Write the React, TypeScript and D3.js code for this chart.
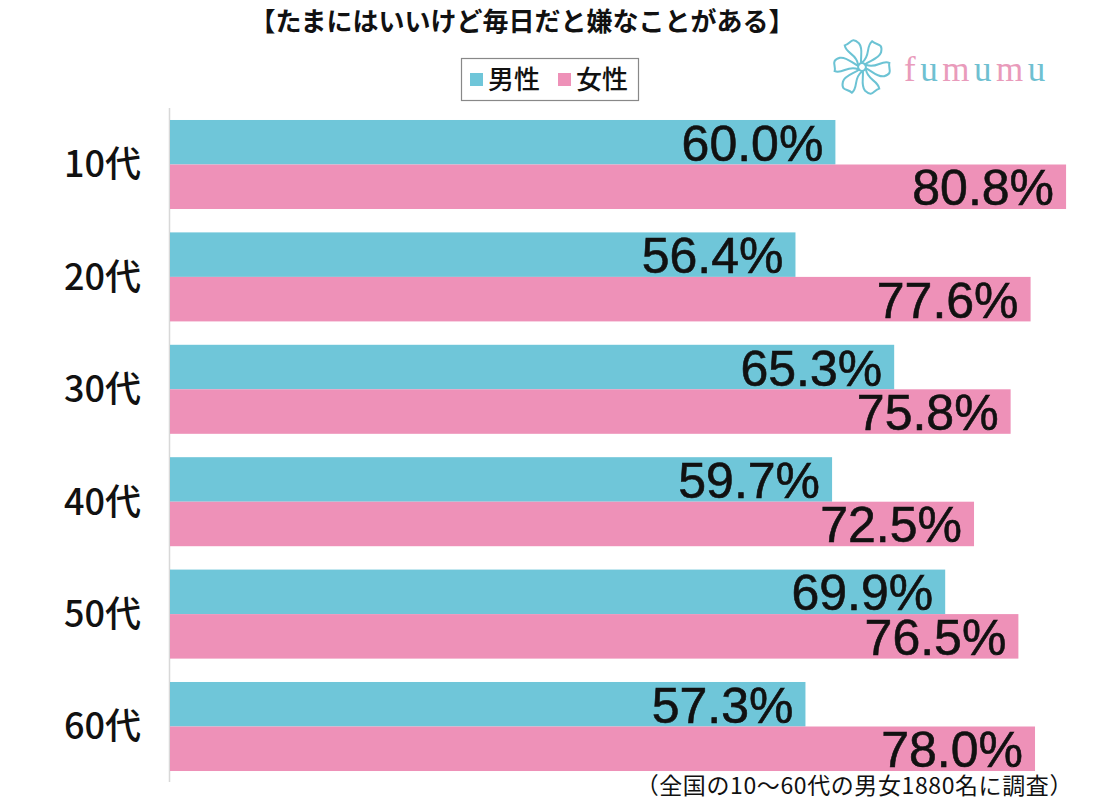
import React from "react";
import * as d3 from "d3";

const categories = ["10代", "20代", "30代", "40代", "50代", "60代"];
const series = ["男性", "女性"];
const maleValues = [60.0, 56.4, 65.3, 59.7, 69.9, 57.3];
const femaleValues = [80.8, 77.6, 75.8, 72.5, 76.5, 78.0];
const colors = ["#6fc6d9", "#ee91b8"];
const title = "【たまにはいいけど毎日だと嫌なことがある】";
const footnote = "（全国の10〜60代の男女1880名に調査）";
const logoLetters = ["f", "u", "m", "u", "m", "u"];

const W = 1102;
const H = 800;

export default function App() {
  const x = d3.scaleLinear().domain([0, 100]).range([170, 1279]);
  const y = d3.scaleBand<string>().domain(categories).range([108.3, 782.7]).paddingInner(0.208).paddingOuter(0.104);
  const inner = d3.scaleBand<string>().domain(series).range([0, y.bandwidth()]).padding(0);
  const valuesBySeries = [maleValues, femaleValues];

  const petals = d3.range(6).map((i) => i * 60);

  return (
    <svg width={W} height={H} viewBox={`0 0 ${W} ${H}`} style={{ position: "absolute", left: 0, top: 0, background: "#fff" }}>
      <rect x={0} y={0} width={W} height={H} fill="#fff" />
      <text x={522} y={31} textAnchor="middle" fontFamily="'Noto Sans CJK JP'" fontWeight={700} fontSize={26} fill="#111">
        {title}
      </text>

      {/* legend */}
      <g>
        <rect x={461.5} y={58.5} width={177} height={42} fill="#fff" stroke="#888" strokeWidth={1.2} />
        {series.map((s, i) => {
          const lx = i === 0 ? 470 : 558;
          return (
            <g key={s}>
              <rect x={lx} y={73} width={13} height={13} fill={colors[i]} />
              <text x={lx + 18} y={89} fontFamily="'Noto Sans CJK JP'" fontWeight={500} fontSize={26} fill="#111">
                {s}
              </text>
            </g>
          );
        })}
      </g>

      {/* logo */}
      <g transform="translate(862,67) scale(1.12)" fill="none" stroke="#6cc3d4" strokeWidth={1.8}>
        {petals.map((a) => (
          <g key={a} transform={`rotate(${a})`}>
            <path d="M0,-4 C8,-10 3,-18 9,-23 C13,-19 19,-22 17,-13 C15,-7 7,-6 2,-2" />
          </g>
        ))}
        <circle r={3.5} />
      </g>
      <text x={904} y={81} fontFamily="'Liberation Serif', serif" fontSize={35} letterSpacing={4.5}>
        {logoLetters.map((l, i) => (
          <tspan key={i} fill={i % 2 === 0 ? "#e99bbb" : "#6fc0d1"}>
            {l}
          </tspan>
        ))}
      </text>

      {/* axis line */}
      <line x1={169.5} x2={169.5} y1={108} y2={782} stroke="#d8d8d8" strokeWidth={1.5} />

      {categories.map((c, ci) => (
        <g key={c} transform={`translate(0,${y(c)})`}>
          <text
            x={141}
            y={y.bandwidth() / 2}
            dy="0.36em"
            textAnchor="end"
            fontFamily="'Noto Sans CJK JP'"
            fontWeight={500}
            fontSize={36}
            fill="#111"
          >
            {c}
          </text>
          {series.map((s, si) => {
            const v = valuesBySeries[si][ci];
            const by = inner(s)!;
            return (
              <g key={s}>
                <rect x={x(0)} y={by} width={x(v) - x(0)} height={inner.bandwidth()} fill={colors[si]} />
                <text
                  x={x(v) - 12}
                  y={by + inner.bandwidth() / 2}
                  dy="0.37em"
                  textAnchor="end"
                  fontFamily="'Liberation Sans', Arial, sans-serif"
                  fontSize={50}
                  fill="#111"
                  stroke="#111"
                  strokeWidth={0.6}
                >
                  {v.toFixed(1) + "%"}
                </text>
              </g>
            );
          })}
        </g>
      ))}

      <text x={1073} y={794} textAnchor="end" fontFamily="'Noto Sans CJK JP'" fontSize={23} letterSpacing={0.6} fill="#111">
        {footnote}
      </text>
    </svg>
  );
}
